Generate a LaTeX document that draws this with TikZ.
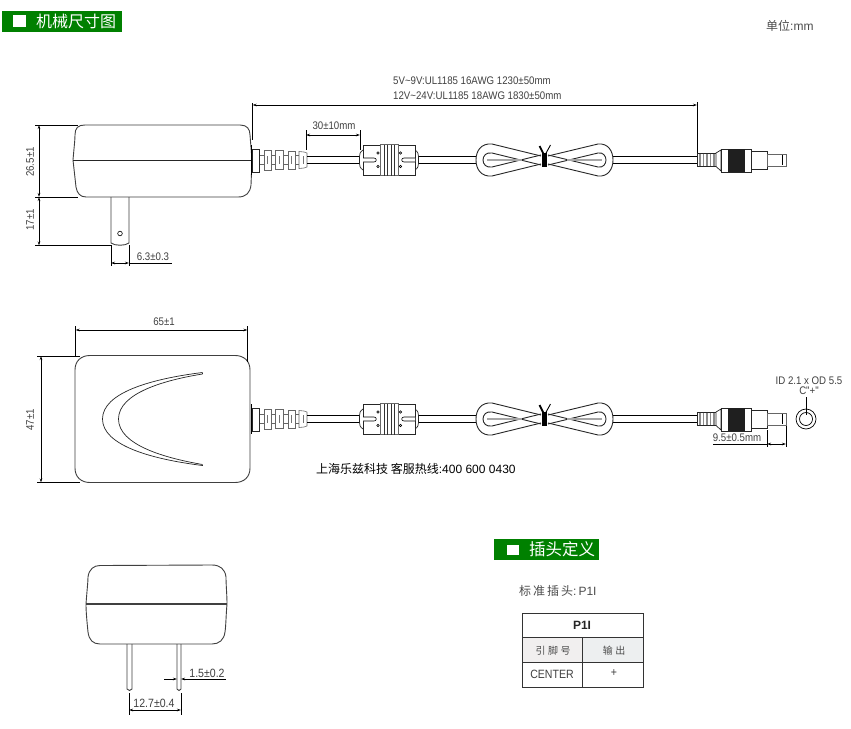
\documentclass[tikz,border=0pt]{standalone}
\usepackage{fontspec}
\setmainfont{Liberation Sans}
\newfontfamily\narrowfont[FakeStretch=0.88]{Liberation Sans}
\newfontfamily\cjk{Noto Sans CJK SC}
\usetikzlibrary{arrows.meta}
\definecolor{titlegreen}{RGB}{0,128,0}
\tikzset{
	outline/.style = {line width=0.9, color=black!75},
	partline/.style = {line width=0.7, color=black!85, fill=white},
	ribline/.style = {line width=0.6, color=black!60, fill=white},
	dimline/.style = {line width=0.7, color=black, <->, >={Stealth[length=4pt,width=2.5pt]}},
	extline/.style = {line width=0.7, color=black},
	dimtext/.style = {font=\narrowfont\fontsize{11}{13}\selectfont, color=black!75, inner sep=0pt},
	cntext/.style = {font=\fontsize{12}{14}\selectfont, color=black!70, inner sep=0pt},
	titletext/.style = {color=white, inner sep=0pt},
}
% one cord with its parts, drawn on the centre line y = 160
\newcommand{\cordparts}{
	\draw[ribline] (259,155.5) rectangle (300,164.5);
	\draw[ribline] (264,150) rectangle (271,170);
	\draw[ribline] (275,150.5) rectangle (283,169.5);
	\draw[ribline] (288,151) rectangle (295,169);
	\draw[ribline] (299,151.5) -- (304,152) -- (307,153) -- (307,167) -- (304,168) -- (299,168.5) -- cycle;
	\foreach \ribx in {267, 279, 291, 303}
		\draw[line width=0.6, color=black!55] (\ribx,156) -- (\ribx,164);
	\draw[partline] (252.5,149) rectangle (259,172);
	\draw[line width=1.5, color=black] (251.5,145) -- (251.5,175);
	\draw[line width=0.9] (307,156.5) -- (360,156.5);
	\draw[line width=0.9] (307,163.5) -- (360,163.5);
	\draw[line width=0.9] (418,156.5) -- (476,156.5);
	\draw[line width=0.9] (418,163.5) -- (476,163.5);
	\draw[line width=0.9] (613,156.5) -- (697,156.5);
	\draw[line width=0.9] (613,163.5) -- (697,163.5);
	% ferrite
	\draw[partline] (363,150) .. controls (360,152) and (359.5,154) .. (359.5,156.5) -- (359.5,163.5) .. controls (359.5,166) and (360,168) .. (363,170);
	\draw[partline] (415,150) .. controls (418,152) and (418.5,154) .. (418.5,156.5) -- (418.5,163.5) .. controls (418.5,166) and (418,168) .. (415,170);
	\draw[partline] (363,145) rectangle (415,175);
	\draw[ribline] (380,144.5) rectangle (398,175.5);
	\foreach \ribx in {384, 387, 391, 394}
		\draw[line width=0.6, color=black!80] (\ribx,144.5) -- (\ribx,175.5);
	\draw[line width=0.6, fill=white] (363,158) -- (374,158) .. controls (377,158) and (377,162) .. (374,162) -- (363,162);
	\draw[line width=0.6, fill=white] (415,158) -- (404,158) .. controls (401,158) and (401,162) .. (404,162) -- (415,162);
	\foreach \dotx in {378, 400.5}
		\foreach \doty in {153, 166.5}
			\draw[line width=0.6, fill=black!15] (\dotx,\doty) circle [radius=1.3];
	% loop
	\draw[line width=0.9, color=black!85] (541,156) -- (492,144) .. controls (481,143) and (476,151) .. (476,160) .. controls (476,169) and (481,177) .. (492,176) -- (541,164);
	\draw[line width=0.9, color=black!85] (541,165) -- (492,153) .. controls (486,152) and (483,156) .. (483,160) .. controls (483,164) and (486,168) .. (492,167) -- (541,155);
	\draw[line width=0.9, color=black!85] (548,156) -- (598,144) .. controls (608,143) and (613,151) .. (613,160) .. controls (613,169) and (608,177) .. (598,176) -- (548,164);
	\draw[line width=0.9, color=black!85] (548,165) -- (598,153) .. controls (603,152) and (606,156) .. (606,160) .. controls (606,164) and (603,168) .. (598,167) -- (548,155);
	\draw[line width=2.5, color=black!35] (487,160) -- (522,160);
	\draw[line width=2.5, color=black!35] (567,160) -- (602,160);
	\fill[black] (542,153) rectangle (547,167);
	\draw[line width=1.8] (539.5,146) -- (544,155);
	\draw[line width=0.9] (550.5,145) -- (545,155);
	% plug
	\draw[partline] (697,153) rectangle (716,166.5);
	\foreach \ribx in {700, 703.5, 707, 710.5, 714}
		\draw[line width=1.3, color=black!45] (\ribx,153.5) -- (\ribx,166);
	\draw[partline] (716,153) -- (721,150) -- (721,171) -- (716,166.5) -- cycle;
	\draw[partline] (721,149) rectangle (751,172);
	\fill[black!88] (728,149) rectangle (745,172);
	\draw[partline] (751,151) rectangle (767,169);
	\draw[line width=1, color=black!60, fill=white] (767,154) -- (786,154) -- (786,166) -- (767,166) -- cycle;
	\draw[line width=0.7] (782,155) -- (782,165);
}
\begin{document}
\begin{tikzpicture}[x=1pt, y=-1pt]
	\useasboundingbox (0,0) rectangle (851,728);
	\fill[white] (0,0) rectangle (851,728);

	% titles
	\fill[titlegreen] (2,11) rectangle (122,32);
	\fill[white] (13,15) rectangle (26,27);
	\node[titletext, font=\cjk\fontsize{16}{17}\selectfont, anchor=west] (titleone) at (36,21.5) {机械尺寸图};
	\node[cntext, anchor=west] (unit) at (766,26) {\cjk 单位\rmfamily:mm};

	% side view
	\draw[outline, fill=white] (73,160) .. controls (74,148) and (75,140) .. (75,135) .. controls (75,128) and (78,125) .. (85,125) -- (240,125) .. controls (247,125) and (250,129) .. (250,135) -- (252,160) -- (251,185) .. controls (250,193) and (246,197) .. (238,197) -- (86,197) .. controls (80,197) and (77,193) .. (76,187) -- cycle;
	\draw[line width=1.4, color=black!85] (73,160.5) -- (252,160.5);
	\draw[outline] (111,197) -- (111,243) .. controls (115,246) and (125,246) .. (129,243) -- (129,197);
	\draw[line width=0.6] (120,233.5) circle [radius=2.3];
	\cordparts

	\draw[extline] (35,125) -- (78,125);
	\draw[extline] (35,197) -- (78,197);
	\draw[extline] (35,245.5) -- (111,245.5);
	\draw[dimline] (39,125) -- (39,197);
	\draw[dimline] (39,197) -- (39,245.5);
	\node[dimtext, rotate=90] (sidehigh) at (30,162) {26.5±1};
	\node[dimtext, rotate=90] (bladelong) at (30,220) {17±1};
	\draw[extline] (111,245) -- (111,266);
	\draw[extline] (129,245) -- (129,266);
	\draw[dimline] (111,263) -- (129,263);
	\draw[extline] (129,263) -- (172,263);
	\node[dimtext] (bladewide) at (153,256.5) {6.3±0.3};

	\draw[extline] (252.5,103) -- (252.5,140);
	\draw[extline] (697,102) -- (697,153);
	\draw[dimline] (252.5,105) -- (697,105);
	\node[dimtext, anchor=west] (cordone) at (393,81) {5V\textasciitilde 9V:UL1185 16AWG 1230±50mm};
	\node[dimtext, anchor=west] (cordtwo) at (393,95.5) {12V\textasciitilde 24V:UL1185 18AWG 1830±50mm};
	\draw[extline] (306,130) -- (306,150);
	\draw[extline] (360,130) -- (360,150);
	\draw[dimline] (306,135) -- (360,135);
	\node[dimtext] (reliefgap) at (334,125.5) {30±10mm};

	% top view
	\draw[outline, fill=white] (75,370) .. controls (75,361) and (81,355.5) .. (90,355.5) -- (235,355.5) .. controls (244,355.5) and (250,361) .. (250,370) -- (250,468) .. controls (250,477) and (244,482.5) .. (235,482.5) -- (90,482.5) .. controls (81,482.5) and (75,477) .. (75,468) -- cycle;
	\draw[line width=0.7, color=black!85] (202.5,372.5) .. controls (150,379) and (102.5,393) .. (102.5,419) .. controls (102.5,445) and (150,459) .. (202.5,465.5);
	\draw[line width=0.7, color=black!85] (202.5,374) .. controls (165,380) and (118.5,393) .. (118.5,419) .. controls (118.5,445) and (165,458) .. (202.5,464.5);
	\draw[line width=0.7, color=black!85] (202.5,372.5) -- (202.5,374);
	\draw[line width=0.7, color=black!85] (202.5,465.5) -- (202.5,464.5);
	\begin{scope}[shift={(0,259)}]
		\cordparts
	\end{scope}

	\draw[extline] (75.5,326) -- (75.5,356);
	\draw[extline] (247.5,326) -- (247.5,362);
	\draw[dimline] (75.5,330) -- (247.5,330);
	\node[dimtext] (topwide) at (164,322) {65±1};
	\draw[extline] (37,356) -- (80,356);
	\draw[extline] (37,482.5) -- (80,482.5);
	\draw[dimline] (41,356) -- (41,482.5);
	\node[dimtext, rotate=90] (tophigh) at (30,420) {47±1};

	\draw[extline] (767,430) -- (767,447);
	\draw[extline] (786,426) -- (786,447);
	\draw[dimline] (767,444) -- (786,444);
	\draw[extline] (713,444) -- (767,444);
	\node[dimtext] (tiplong) at (737,438) {9.5±0.5mm};
	\draw[line width=0.7] (806,419) circle [radius=10];
	\draw[line width=0.7] (806,419) circle [radius=6.5];
	\draw[line width=0.7] (806,397) -- (806,415);
	\node[dimtext] (plugsize) at (809,380.5) {ID 2.1 x OD 5.5};
	\node[dimtext] (plugpole) at (809,390.5) {C"+"};
	\node[font=\fontsize{12}{14}\selectfont, inner sep=0pt, anchor=west] (company) at (316,468.5) {\cjk 上海乐兹科技 客服热线\rmfamily:400 600 0430};

	% front view
	\draw[outline, fill=white] (86,604) .. controls (87,590) and (88,582) .. (88,577) .. controls (89,569) and (94,565.5) .. (100,565.5) -- (212,565) .. controls (220,565) and (225,569) .. (226,577) .. controls (226,585) and (227,595) .. (227,604) .. controls (226,615) and (226,625) .. (225,632) .. controls (224,640) and (219,644) .. (212,644) -- (100,644) .. controls (93,644) and (89,640) .. (88,632) .. controls (87,622) and (86,612) .. (86,604) -- cycle;
	\draw[line width=1.6, color=black!75] (86,604) -- (227,604);
	\draw[outline] (127,644) -- (127,689) .. controls (128,691) and (131,691) .. (132,689) -- (132,644);
	\draw[outline] (177,644) -- (177,689) .. controls (178,691) and (180,691) .. (181,689) -- (181,644);

	\draw[extline] (129,693) -- (129,715);
	\draw[extline] (181,693) -- (181,715);
	\draw[dimline] (129,710) -- (181,710);
	\node[dimtext, font=\narrowfont\fontsize{12}{14}\selectfont] (pinpitch) at (154,703) {12.7±0.4};
	\draw[extline, ->, >={Stealth[length=4pt,width=2.5pt]}] (164,679) -- (177,679);
	\draw[extline, ->, >={Stealth[length=4pt,width=2.5pt]}] (226,679) -- (181,679);
	\node[dimtext, font=\narrowfont\fontsize{12}{14}\selectfont] (pinwide) at (207,673) {1.5±0.2};

	% plug table
	\fill[titlegreen] (494,539) rectangle (599,560);
	\fill[white] (507,545) rectangle (519,555);
	\node[titletext, font=\cjk\fontsize{16.5}{18}\selectfont, anchor=west] (titletwo) at (529,549.5) {插头定义};
	\node[cntext, anchor=west] (plugname) at (519,591) {\cjk 标\kern2pt 准\kern2pt 插\kern2pt 头\rmfamily:\kern2pt P1I};
	\fill[pink!30!black!8] (522,637) rectangle (582,662);
	\fill[cyan!15!black!8] (582,637) rectangle (643,662);
	\draw[line width=0.9, color=black!80] (522,613) rectangle (643,687);
	\draw[line width=0.9, color=black!80] (522,637) -- (643,637);
	\draw[line width=0.9, color=black!80] (522,662) -- (643,662);
	\draw[line width=0.9, color=black!80] (582,637) -- (582,687);
	\node[font=\bfseries\fontsize{12}{14}\selectfont, inner sep=0pt, color=black!85] (tablehead) at (582,625) {P1I};
	\node[cntext, font=\cjk\fontsize{10}{12}\selectfont] (pinhead) at (553,651) {引\kern2.5pt 脚\kern2.5pt 号};
	\node[cntext, font=\cjk\fontsize{10}{12}\selectfont] (outhead) at (614,651) {输\kern2.5pt 出};
	\node[dimtext, font=\narrowfont\fontsize{12}{14}\selectfont] (pincell) at (552,674) {CENTER};
	\node[dimtext, font=\narrowfont\fontsize{12}{14}\selectfont] (outcell) at (614,673) {+};
\end{tikzpicture}
\end{document}
